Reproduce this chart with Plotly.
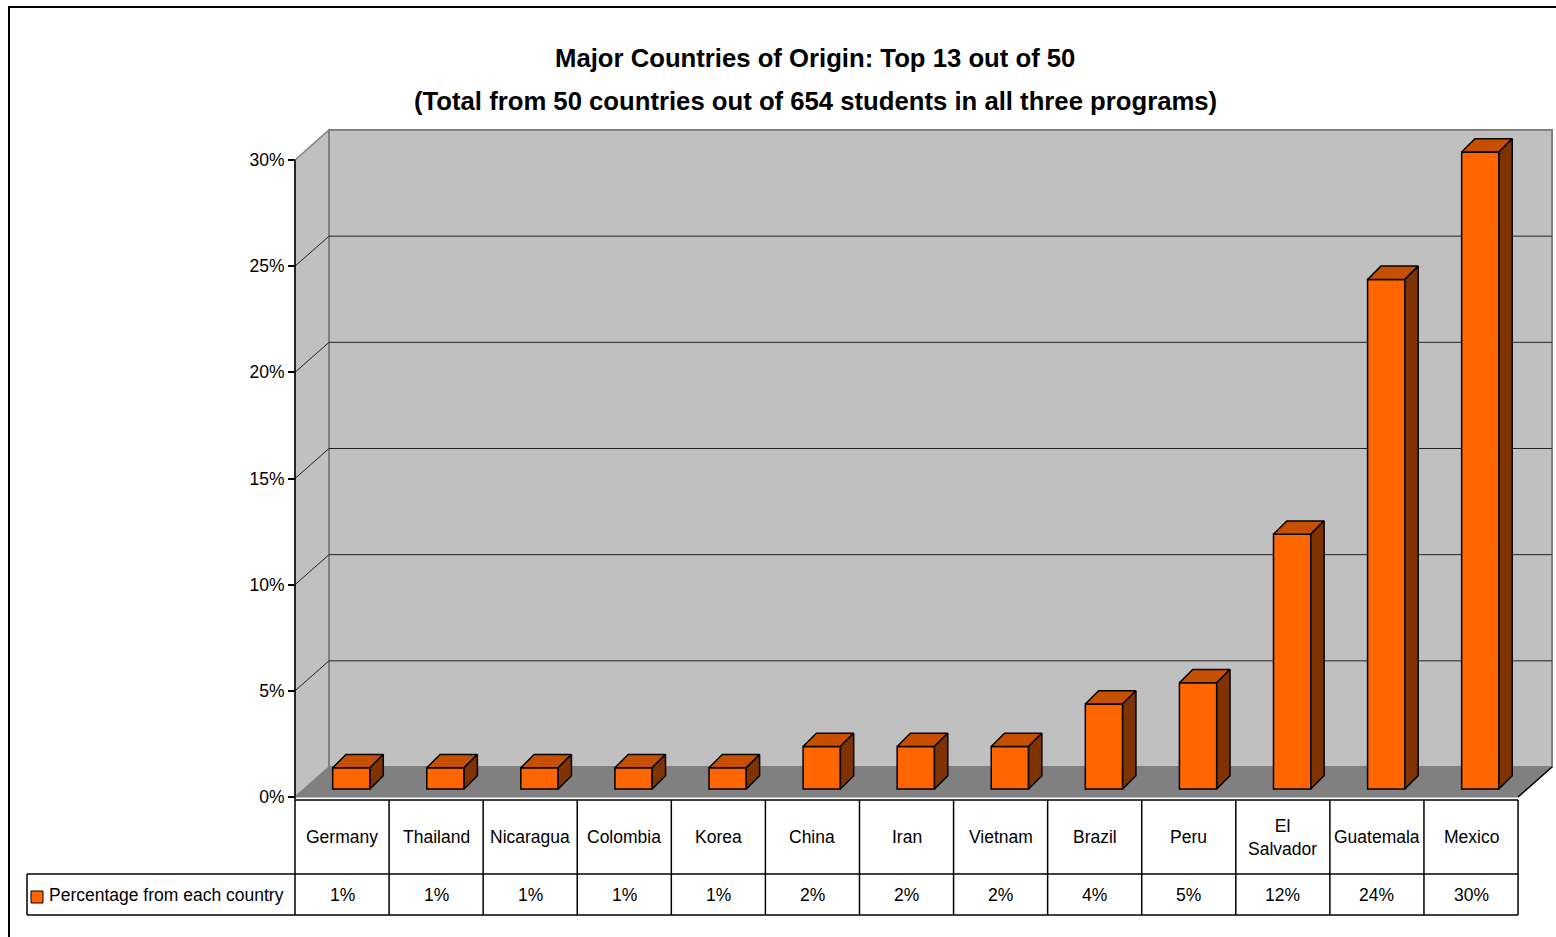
import plotly.graph_objects as go

# ---- data ----
countries = ["Germany", "Thailand", "Nicaragua", "Colombia", "Korea", "China", "Iran",
             "Vietnam", "Brazil", "Peru", "El<br>Salvador", "Guatemala", "Mexico"]
percentages = [1, 1, 1, 1, 1, 2, 2, 2, 4, 5, 12, 24, 30]
y_ticks = [0, 5, 10, 15, 20, 25, 30]
series_name = "Percentage from each country"
title_line1 = "Major Countries of Origin: Top 13 out of 50"
title_line2 = "(Total from 50 countries out of 654 students in all three programs)"

W, H = 1556, 937
FONT = "Liberation Sans, Arial, sans-serif"
FS = 17.5

# pixel <-> data helpers (layout geometry)
AX_PX, CAT_W, ZERO_PY, UNIT_Y = 295, 94.08, 797, 21.233
def dx(px):
    return -0.5 + (px - AX_PX) / CAT_W
def dy(py):
    return (ZERO_PY - py) / UNIT_Y

n = len(countries)
BX, BY = 34 / CAT_W, 30 / UNIT_Y          # wall depth offset
OX, BW = 9.3 / CAT_W, 37.3 / CAT_W        # bar front-face centre offset and width
BOFF = 8 / UNIT_Y                          # bar front face base shift
DDX, DDY = 13.3 / CAT_W, 13.3 / UNIT_Y     # bar depth

idx = list(range(n))
fig = go.Figure()

# front faces
fig.add_trace(go.Bar(x=idx, y=percentages, base=[BOFF] * n, width=BW, offset=OX - BW / 2,
                     marker=dict(color="#FF6600", line=dict(color="black", width=1.5)),
                     showlegend=False, hoverinfo="skip"))
# top faces and side faces
tx, ty, sx, sy = [], [], [], []
for i, v in zip(idx, percentages):
    l = i + OX - BW / 2
    r = i + OX + BW / 2
    top = v + BOFF
    tx += [l, r, r + DDX, l + DDX, l, None]
    ty += [top, top, top + DDY, top + DDY, top, None]
    sx += [r, r + DDX, r + DDX, r, r, None]
    sy += [BOFF, BOFF + DDY, top + DDY, top, BOFF, None]
fig.add_trace(go.Scatter(x=tx, y=ty, mode="lines", fill="toself", fillcolor="#C65000",
                         line=dict(color="black", width=1.5), showlegend=False, hoverinfo="skip"))
fig.add_trace(go.Scatter(x=sx, y=sy, mode="lines", fill="toself", fillcolor="#7F3300",
                         line=dict(color="black", width=1.5), showlegend=False, hoverinfo="skip"))

shapes = []
x_left, x_right = -0.5, n - 0.5
top_v = y_ticks[-1]
# side wall
shapes.append(dict(type="path", layer="below",
                   path=f"M{x_left},0 L{x_left},{top_v} L{x_left+BX},{top_v+BY} L{x_left+BX},{BY} Z",
                   fillcolor="#C0C0C0", line=dict(color="#808080", width=1.5)))
# back wall
shapes.append(dict(type="rect", layer="below", x0=x_left + BX, x1=x_right + BX, y0=BY, y1=top_v + BY,
                   fillcolor="#C0C0C0", line=dict(color="#808080", width=2)))
# floor
shapes.append(dict(type="path", layer="below",
                   path=f"M{x_left},0 L{x_right},0 L{x_right+BX},{BY} L{x_left+BX},{BY} Z",
                   fillcolor="#808080", line=dict(color="#808080", width=1)))
shapes.append(dict(type="line", layer="below", x0=x_right, y0=0, x1=x_right + BX, y1=BY,
                   line=dict(color="black", width=1.5)))
# gridlines
for v in y_ticks[1:-1]:
    shapes.append(dict(type="line", layer="below", x0=x_left + BX, x1=x_right + BX, y0=v + BY, y1=v + BY,
                       line=dict(color="#222222", width=1)))
    shapes.append(dict(type="line", layer="below", x0=x_left, x1=x_left + BX, y0=v, y1=v + BY,
                       line=dict(color="#222222", width=1)))
# value axis line
shapes.append(dict(type="line", x0=x_left, x1=x_left, y0=dy(800), y1=top_v,
                   line=dict(color="black", width=1.5)))

# data table
t_top, t_mid, t_bot = dy(800), dy(874), dy(915)
leg_left = dx(27)
tl = dict(color="black", width=1.5)
shapes.append(dict(type="line", x0=x_left, x1=x_right, y0=t_top, y1=t_top, line=tl))
shapes.append(dict(type="line", x0=leg_left, x1=x_right, y0=t_mid, y1=t_mid, line=tl))
shapes.append(dict(type="line", x0=leg_left, x1=x_right, y0=t_bot, y1=t_bot, line=tl))
shapes.append(dict(type="line", x0=leg_left, x1=leg_left, y0=t_mid, y1=t_bot, line=tl))
for i in range(n + 1):
    shapes.append(dict(type="line", x0=i - 0.5, x1=i - 0.5, y0=t_top, y1=t_bot, line=tl))
# legend key
shapes.append(dict(type="rect", x0=dx(31), x1=dx(43), y0=dy(903), y1=dy(891),
                   fillcolor="#FF6600", line=dict(color="black", width=1)))
# outer frame
shapes.append(dict(type="rect", xref="paper", yref="paper", x0=9 / W, x1=1.02, y0=-0.02, y1=1 - 7 / H,
                   line=dict(color="black", width=2)))

annotations = []
for i, (c, v) in enumerate(zip(countries, percentages)):
    annotations.append(dict(x=i, y=(t_top + t_mid) / 2, text=c, showarrow=False,
                            xanchor="center", yanchor="middle",
                            font=dict(family=FONT, size=FS, color="black")))
    annotations.append(dict(x=i, y=(t_mid + t_bot) / 2, text=f"{v}%", showarrow=False,
                            xanchor="center", yanchor="middle",
                            font=dict(family=FONT, size=FS, color="black")))
annotations.append(dict(x=dx(47), y=(t_mid + t_bot) / 2, text=series_name, showarrow=False,
                        xanchor="left", yanchor="middle", font=dict(family=FONT, size=FS, color="black")))
annotations.append(dict(xref="paper", yref="paper", x=815 / W, y=1 - 58 / H, text=f"<b>{title_line1}</b>",
                        showarrow=False, xanchor="center", yanchor="middle",
                        font=dict(family=FONT, size=25.7, color="black")))
annotations.append(dict(xref="paper", yref="paper", x=815 / W, y=1 - 101 / H, text=f"<b>{title_line2}</b>",
                        showarrow=False, xanchor="center", yanchor="middle",
                        font=dict(family=FONT, size=25.7, color="black")))

fig.update_layout(
    width=W, height=H, margin=dict(l=0, r=0, t=0, b=0),
    paper_bgcolor="white", plot_bgcolor="white",
    xaxis=dict(range=[dx(0), dx(W)], visible=False, fixedrange=True),
    yaxis=dict(range=[dy(H), dy(0)], anchor="free", position=AX_PX / W,
               tickvals=y_ticks, ticktext=[f"{t}%" for t in y_ticks],
               ticks="outside", ticklen=7, tickcolor="black", tickwidth=1.5,
               showgrid=False, zeroline=False, showline=False,
               tickfont=dict(family=FONT, size=FS, color="black"), fixedrange=True),
    shapes=shapes, annotations=annotations, showlegend=False,
)

fig.write_html("out.html", config={"displayModeBar": False},
               post_script="document.body.style.margin='0px';")
